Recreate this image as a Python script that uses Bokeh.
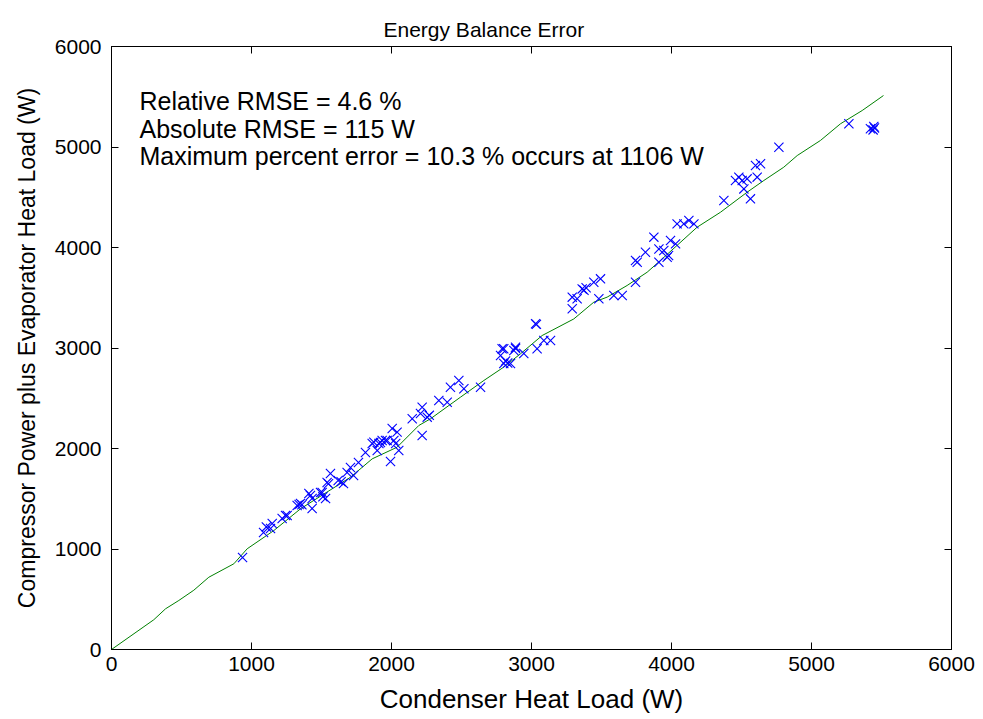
from bokeh.plotting import figure
from bokeh.models import Range1d, LinearAxis, FixedTicker, Label
from bokeh.embed import file_html
from bokeh.resources import INLINE

# Measured heat loads (W): condenser vs. compressor power + evaporator
condenser_w = [
    936, 1086, 1106, 1136, 1148, 1219, 1243, 1255, 1326, 1340, 1350, 1360,
    1410, 1421, 1433, 1433, 1493, 1505, 1510, 1529, 1540, 1550, 1564, 1619,
    1640, 1657, 1683, 1707, 1729, 1764, 1814, 1862, 1874, 1898, 1910, 1921,
    1933, 1957, 1969, 1993, 2005, 2017, 2030, 2040, 2052, 2148, 2207, 2219,
    2219, 2255, 2270, 2338, 2398, 2421, 2481, 2517, 2636, 2779, 2790, 2802,
    2802, 2815, 2830, 2850, 2874, 2886, 2886, 2945, 3029, 3035, 3040, 3088,
    3136, 3291, 3291, 3326, 3362, 3375, 3390, 3445, 3481, 3493, 3588, 3648,
    3743, 3743, 3755, 3814, 3874, 3910, 3910, 3945, 3969, 3979, 3993, 4029,
    4040, 4088, 4124, 4160, 4374, 4457, 4481, 4505, 4517, 4540, 4564, 4600,
    4612, 4636, 4767, 5267, 5421, 5445, 5440, 5450,
]
comp_plus_evap_w = [
    915, 1164, 1220, 1204, 1254, 1303, 1333, 1333, 1433, 1443, 1453, 1440,
    1552, 1532, 1403, 1502, 1562, 1562, 1520, 1502, 1662, 1650, 1751, 1682,
    1670, 1652, 1761, 1811, 1731, 1861, 1960, 2050, 2063, 1980, 2050, 2060,
    2080, 2080, 2080, 1870, 2199, 2080, 2050, 2163, 1980, 2296, 2348, 2411,
    2129, 2312, 2330, 2478, 2461, 2610, 2677, 2594, 2610, 2925, 2992, 2846,
    2992, 2870, 2850, 2846, 2975, 2995, 3008, 2945, 3241, 3235, 2992, 3075,
    3075, 3390, 3506, 3490, 3588, 3575, 3600, 3655, 3490, 3688, 3522, 3522,
    3655, 3871, 3854, 3953, 4103, 3985, 3854, 3970, 3903, 3920, 4070, 4036,
    4235, 4235, 4269, 4235, 4468, 4667, 4700, 4667, 4583, 4683, 4484, 4816,
    4700, 4833, 4998, 5231, 5181, 5204, 5170, 5190,
]

# Reference curve
ref_x = [0, 302, 386, 481, 588, 695, 874, 969, 1160, 1350, 1707, 1862, 2040,
         2195, 2279, 2410, 2493, 2660, 2802, 2921, 3076, 3302, 3445, 3540,
         3683, 3826, 3921, 4183, 4350, 4540, 4660, 4802, 4898, 5064, 5207,
         5362, 5514]
ref_y = [0, 296, 405, 488, 590, 719, 853, 1002, 1184, 1400, 1714, 1897, 2013,
         2229, 2296, 2428, 2511, 2677, 2810, 2942, 3124, 3289, 3456, 3506,
         3622, 3754, 3871, 4202, 4351, 4550, 4667, 4799, 4915, 5065, 5231,
         5363, 5512]

ticks = [0, 1000, 2000, 3000, 4000, 5000, 6000]
title_text = "Energy Balance Error"
stats_lines = [
    "Relative RMSE = 4.6 %",
    "Absolute RMSE = 115 W",
    "Maximum percent error = 10.3 % occurs at 1106 W",
]

FONT = "Liberation Sans"

p = figure(width=983, height=719, output_backend="svg", toolbar_location=None,
           x_range=Range1d(0, 6000), y_range=Range1d(0, 6000),
           min_border_left=111, min_border_right=32,
           min_border_top=46, min_border_bottom=70,
           title=title_text)
p.background_fill_color = "white"
p.border_fill_color = "white"
p.outline_line_color = "black"
p.outline_line_width = 1
p.grid.visible = False

p.title.align = "left"
p.title.offset = 272
p.title.text_font = FONT
p.title.text_font_size = "21px"
p.title.text_font_style = "normal"
p.title.text_color = "black"
p.title.standoff = 12

for ax in (p.xaxis[0], p.yaxis[0]):
    ax.ticker = FixedTicker(ticks=ticks)
    ax.major_tick_in = 7
    ax.major_tick_out = 0
    ax.minor_tick_line_color = None
    ax.axis_line_color = "black"
    ax.major_tick_line_color = "black"
    ax.major_label_text_font = FONT
    ax.major_label_text_font_size = "21px"
    ax.major_label_text_color = "black"
    ax.axis_label_text_font = FONT
    ax.axis_label_text_font_style = "normal"
    ax.axis_label_text_color = "black"

p.xaxis.axis_label = "Condenser Heat Load (W)"
p.yaxis.axis_label = "Compressor Power plus Evaporator Heat Load (W)"
p.xaxis.axis_label_text_font_size = "26px"
p.yaxis.axis_label_text_font_size = "23px"
p.xaxis.major_label_standoff = 7
p.yaxis.major_label_standoff = 10
p.xaxis.axis_label_standoff = 10
p.yaxis.axis_label_standoff = 12

# Box-style tick marks on the top and right edges (no labels)
for side in ("above", "right"):
    ax = LinearAxis(ticker=FixedTicker(ticks=ticks))
    ax.major_tick_in = 7
    ax.major_tick_out = 0
    ax.minor_tick_line_color = None
    ax.major_label_text_color = None
    ax.major_label_text_font_size = "1px"
    ax.major_label_standoff = 0
    ax.axis_line_color = "black"
    p.add_layout(ax, side)

p.line(ref_x, ref_y, line_color="#008000", line_width=1)
p.scatter(condenser_w, comp_plus_evap_w, marker="x", size=13,
          line_color="#0000ff", line_width=1.1)

for txt, yv in zip(stats_lines, [5455, 5184, 4915]):
    p.add_layout(Label(x=200, y=yv, text=txt, text_font=FONT,
                       text_font_size="25px", text_color="black",
                       text_baseline="middle"))

open("out.html", "w").write(file_html(p, INLINE))
